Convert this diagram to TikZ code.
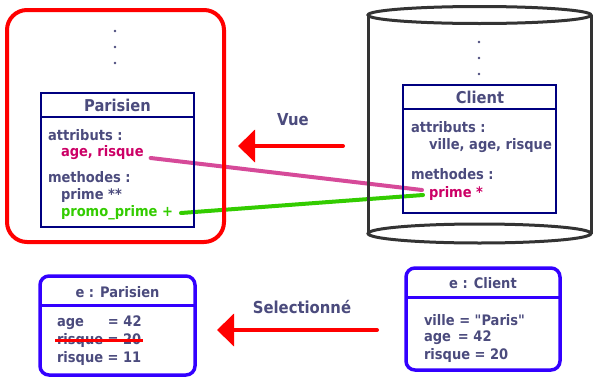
\documentclass[tikz,border=0pt]{standalone}
\usepackage{fontspec}
\setmainfont{DejaVu Sans Condensed}
\usetikzlibrary{arrows.meta}
\definecolor{txt}{HTML}{4B4B7D}
\definecolor{navy}{HTML}{000080}
\definecolor{frame}{HTML}{FF0000}
\definecolor{objblue}{HTML}{3300FF}
\definecolor{pinkline}{HTML}{D64A99}
\definecolor{attrpink}{HTML}{CC0066}
\definecolor{grn}{HTML}{33CC00}
\definecolor{cyl}{HTML}{333333}

\begin{document}
\begin{tikzpicture}[x=1pt,y=-1pt,
  every node/.style={inner sep=0pt, outer sep=0pt},
  lbl/.style={text=txt, font=\bfseries\fontsize{14.5}{16}\selectfont, anchor=west},
  hdr/.style={text=txt, font=\bfseries\fontsize{16.3}{18}\selectfont},
  ohdr/.style={text=txt, font=\bfseries\fontsize{14.5}{16}\selectfont},
  biglbl/.style={text=txt, font=\bfseries\fontsize{16.5}{18}\selectfont},
  clsbox/.style={draw=navy, line width=1.6pt, anchor=north west, minimum width=153pt},
  objbox/.style={draw=objblue, line width=3.5pt, rounded corners=9pt, anchor=north west},
  bigarrow/.style={draw=frame, line width=4pt, line cap=round, -{Triangle[length=17pt,width=32pt]}},
  link/.style={line width=4pt, line cap=round},
  dot/.style={circle, fill=txt, minimum size=2.6pt},
]
\useasboundingbox (0,0) rectangle (595,378);

% ---------- class Parisien (view) ----------
\node[dot] (pd1) at (115,31) {};
\node[dot] (pd2) at (115,47) {};
\node[dot] (pd3) at (115,63) {};
\node[hdr] (pname) at (117.5,105) {Parisien};
\node[lbl] (pattr) at (48,135) {attributs :};
\node[lbl, text=attrpink] (page) at (61,153) {age, risque};
\node[lbl] (pmeth) at (48,177) {methodes :};
\node[lbl] (pprime) at (61,195) {prime **};
\node[lbl, text=grn] (ppromo) at (61,213) {promo\_prime +};

% ---------- class Client (base) ----------
\node[dot] (cd1) at (479,42) {};
\node[dot] (cd2) at (479,58) {};
\node[dot] (cd3) at (479,74) {};
\node[hdr] (cname) at (480,97) {Client};
\node[lbl] (cattr) at (411,127) {attributs :};
\node[lbl] (cvals) at (429,146) {ville, age, risque};
\node[lbl] (cmeth) at (411,174) {methodes :};
\node[lbl, text=attrpink] (cprime) at (429,193) {prime *};

% ---------- links between methods / attributes ----------
\draw[link, pinkline] ([shift={(7,5)}]page.east) -- ([shift={(-7,-3)}]cprime.west);
\draw[link, grn] ([xshift=8pt]ppromo.east) -- ([shift={(-6,2)}]cprime.west);

% ---------- class boxes ----------
\node[clsbox, minimum height=24pt] (phead) at (41,93) {};
\node[clsbox, minimum height=110pt] (pbody) at (41,117) {};
\node[clsbox, minimum height=24pt] (chead) at (403,85) {};
\node[clsbox, minimum height=104pt] (cbody) at (403,109) {};

% ---------- view frame ----------
\node[draw=frame, line width=4pt, rounded corners=20pt, anchor=north west,
      minimum width=217pt, minimum height=232pt] (view) at (7,10) {};

% ---------- base cylinder ----------
\draw[cyl, line width=3pt] (479.5,15) ellipse [x radius=111.5, y radius=8.5];
\draw[cyl, line width=3pt] (479.5,233.5) ellipse [x radius=111.5, y radius=9.5];
\draw[cyl, line width=3pt] (368,15) -- (368,233.5);
\draw[cyl, line width=3pt] (591,15) -- (591,233.5);

% ---------- "Vue" arrow ----------
\coordinate (vfrom) at (343,146);
\coordinate (vto) at (238,146);
\draw[bigarrow] (vfrom) -- (vto);
\node[biglbl] (vue) at (293,120) {Vue};

% ---------- object e : Parisien ----------
\node[objbox, minimum width=155pt, minimum height=99pt] (eP) at (40,276) {};
\draw[objblue, line width=3pt] (eP.west |- 0,305) -- (eP.east |- 0,305);
\node[ohdr] (ePname) at (117.5,292) {e : Parisien};
\node[lbl] (ePage) at (57,323) {\makebox[51pt][l]{age}= 42};
\node[lbl] (ePold) at (57,340) {risque = 20};
\node[lbl] (ePnew) at (57,358) {risque = 11};
\draw[frame, line width=3pt] ([xshift=-2pt]ePold.west) -- ([xshift=2pt]ePold.east);

% ---------- object e : Client ----------
\node[objbox, minimum width=154pt, minimum height=102pt] (eC) at (406,268) {};
\draw[objblue, line width=3pt] (eC.west |- 0,297) -- (eC.east |- 0,297);
\node[ohdr] (eCname) at (483,283) {e : Client};
\node[lbl] (eCville) at (424,320) {ville = \textquotedbl Paris\textquotedbl};
\node[lbl] (eCage) at (424,338) {\makebox[34pt][l]{age}= 42};
\node[lbl] (eCrisk) at (424,355) {risque = 20};

% ---------- "Selectionné" arrow ----------
\coordinate (sfrom) at (377,330);
\coordinate (sto) at (217,330);
\draw[bigarrow] (sfrom) -- (sto);
\node[biglbl] (sel) at (302,307) {Selectionné};
\end{tikzpicture}
\end{document}
